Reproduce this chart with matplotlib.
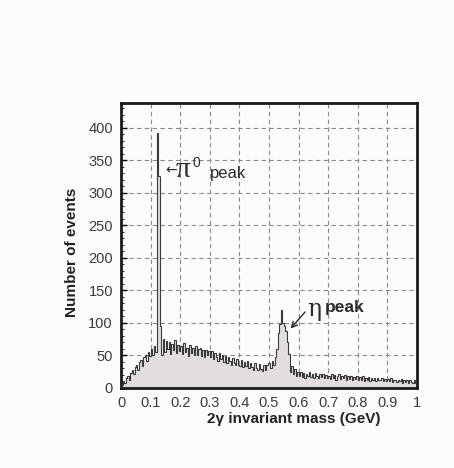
import numpy as np
import matplotlib
matplotlib.use("Agg")
import matplotlib.pyplot as plt

# ---- data (bin width 0.005 GeV, 0..1 GeV) ----
bin_width = 0.005
counts_0_01 = [5, 11, 7, 16, 19, 13, 23, 28, 22, 32, 36, 28, 40, 43, 34, 47, 50, 42, 56, 49]
counts_01_02 = [60, 51, 64, 55, 392, 325, 95, 50, 76, 56, 72, 60, 70, 52, 68, 58, 73, 54, 66, 57]
counts_02_03 = [65, 52, 69, 55, 62, 49, 66, 54, 61, 51, 64, 50, 60, 62, 49, 58, 47, 59, 50, 57]
counts_03_04 = [48, 57, 45, 54, 47, 42, 53, 44, 50, 40, 49, 38, 47, 41, 36, 46, 38, 35, 44, 36]
counts_04_05 = [34, 43, 32, 40, 33, 41, 30, 39, 32, 28, 38, 31, 27, 37, 29, 26, 35, 28, 36, 39]
counts_05_06 = [38, 31, 42, 35, 47, 60, 85, 98, 120, 100, 95, 88, 70, 52, 25, 33, 21, 29, 19, 25]
counts_06_07 = [18, 24, 17, 23, 16, 22, 18, 25, 17, 21, 15, 23, 18, 16, 22, 17, 21, 15, 20, 16]
counts_07_08 = [19, 14, 21, 15, 20, 13, 18, 22, 14, 19, 15, 20, 13, 18, 14, 19, 12, 17, 14, 18]
counts_08_09 = [13, 17, 12, 18, 11, 16, 13, 17, 11, 16, 12, 15, 10, 16, 12, 13, 15, 10, 14, 11]
counts_09_10 = [14, 10, 15, 9, 13, 12, 9, 13, 10, 14, 8, 13, 9, 12, 8, 13, 9, 7, 12, 8]

counts = np.array(counts_0_01 + counts_01_02 + counts_02_03 + counts_03_04 + counts_04_05 +
                  counts_05_06 + counts_06_07 + counts_07_08 + counts_08_09 + counts_09_10, dtype=float)
edges = np.arange(len(counts) + 1) * bin_width

x_ticks = [0, 0.1, 0.2, 0.3, 0.4, 0.5, 0.6, 0.7, 0.8, 0.9, 1]
x_tick_labels = ["0", "0.1", "0.2", "0.3", "0.4", "0.5", "0.6", "0.7", "0.8", "0.9", "1"]
y_ticks = [0, 50, 100, 150, 200, 250, 300, 350, 400]

plt.rcParams['font.family'] = ['Liberation Sans', 'DejaVu Sans']

fig = plt.figure(figsize=(4.54, 4.68), dpi=100, facecolor='#fdfbfc')
ax = fig.add_axes([0.267, 0.171, 0.651, 0.609])
ax.set_facecolor('#fdfbfc')

ax.stairs(counts, edges, fill=True, color='#e2dedf', zorder=2)
ax.stairs(counts, edges, color='#3a3a3a', linewidth=0.8, zorder=3)

ax.set_xlim(0, 1.0)
ax.set_ylim(0, 438)
ax.set_xticks(x_ticks)
ax.set_xticklabels(x_tick_labels)
ax.set_yticks(y_ticks)
ax.set_xticks(np.arange(0, 1.0001, 0.02), minor=True)
ax.set_yticks(np.arange(0, 438, 10), minor=True)
ax.tick_params(axis='both', which='major', direction='in', length=4, width=1,
               labelsize=10.5, labelcolor='#3a3a3a')
ax.tick_params(axis='y', which='major', pad=6)
ax.tick_params(axis='x', which='major', pad=6)
ax.tick_params(axis='both', which='minor', direction='in', length=2, width=0.6)
ax.tick_params(top=False, right=False)
ax.grid(True, which='major', linestyle=(0, (4, 3)), color='#8a8a8a', linewidth=0.8, zorder=1)
ax.set_axisbelow(True)
for s in ax.spines.values():
    s.set_linewidth(2.0)
    s.set_color('#1a1a1a')

ax.set_ylabel("Number of events", fontsize=11, fontweight='bold', color='#222222')
ax.yaxis.set_label_coords(-0.142, 0.477)
ax.set_xlabel("2γ invariant mass (GeV)", fontsize=11, fontweight='bold', color='#222222')
ax.xaxis.set_label_coords(0.585, -0.084)

# annotations
ax.text(0.150, 334, "←", fontsize=10, family=['DejaVu Sans'], color='#2a2a2a',
        va='center', ha='left', zorder=5)
ax.text(0.185, 335, "π", fontsize=21, family=['Liberation Serif'], color='#2a2a2a',
        va='center', ha='left', zorder=5)
ax.text(0.240, 346, "0", fontsize=10, color='#2a2a2a', va='center', ha='left', zorder=5)
ax.text(0.300, 330, "peak", fontsize=12, color='#2a2a2a', va='center', ha='left', zorder=5)

ax.annotate("", xy=(0.567, 88), xytext=(0.628, 120),
            arrowprops=dict(arrowstyle='->', color='#2a2a2a', lw=1.0), zorder=5)
ax.text(0.63, 121, "η", fontsize=17, family=['DejaVu Serif'], color='#2a2a2a',
        va='center', ha='left', zorder=5)
ax.text(0.69, 124, "peak", fontsize=12.5, fontweight='bold', color='#2a2a2a',
        va='center', ha='left', zorder=5)

fig.savefig("out.png", dpi=100, facecolor=fig.get_facecolor())
